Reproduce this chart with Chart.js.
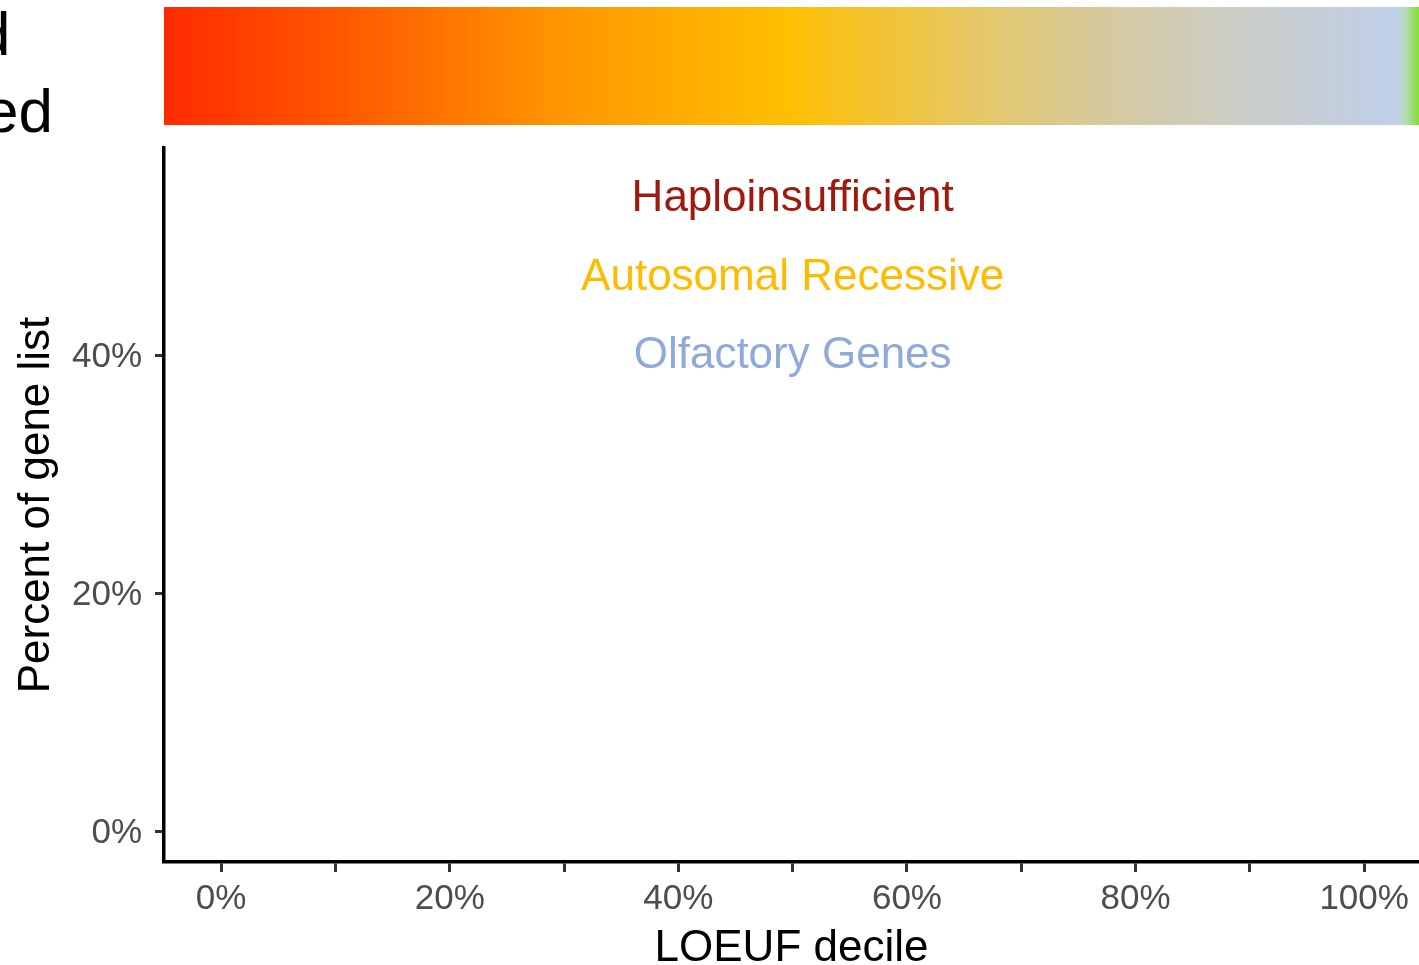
<!DOCTYPE html>
<html>
<head>
<meta charset="utf-8">
<script src="https://cdn.jsdelivr.net/npm/chart.js@4.4.1/dist/chart.umd.min.js"></script>
<style>
  body { margin: 0; background: #fff; }
  canvas { display: block; }
</style>
</head>
<body>
<canvas id="chart" width="1419" height="965"></canvas>
<script>
// Axis ticks (percent)
const xTicks = [0, 10, 20, 30, 40, 50, 60, 70, 80, 90, 100];
const yTicks = [0, 20, 40];

// Gene list labels, placed in data coordinates
const listNames = ['Haploinsufficient', 'Autosomal Recessive', 'Olfactory Genes'];
const listX = [50, 50, 50];
const listY = [53.1, 46.5, 39.9];
const listColors = ['#a0190f', '#ffbb00', '#8ea9dc'];

// LOEUF colour bar stops (x in percent)
const barStops = [-5, 9.5, 29.7, 49.3, 68.2, 76.9, 90, 102.9, 103.6, 104.8];
const barColors = ['#ff2a00', '#ff5500', '#ff9600', '#ffbf00', '#e2c872', '#d6c99b', '#cacdc9', '#c0d0ea', '#b6dab6', '#80e030'];

// Cut-off annotation at top left
const cornerText = ['Ranked', 'Constrained'];

const FONT = "'Liberation Sans', Arial, sans-serif";

const overlay = {
    id: 'overlay',
    afterDraw(chart) {
        const ctx = chart.ctx;
        const x = chart.scales.x;
        const y = chart.scales.y;

        // Colour bar above the panel
        const x0 = x.getPixelForValue(barStops[0]);
        const x1 = x.getPixelForValue(barStops[barStops.length - 1]);
        const grad = ctx.createLinearGradient(x0, 0, x1, 0);
        barStops.forEach((s, i) => {
            grad.addColorStop((s - barStops[0]) / (barStops[barStops.length - 1] - barStops[0]), barColors[i]);
        });
        ctx.save();
        ctx.fillStyle = grad;
        ctx.fillRect(x0, 7, chart.width - x0, 118);

        // Corner text (partly off canvas)
        ctx.fillStyle = '#000';
        ctx.font = '62px ' + FONT;
        ctx.textAlign = 'right';
        ctx.textBaseline = 'alphabetic';
        ctx.fillText(cornerText[0], 10.5, 55);
        ctx.fillText(cornerText[1], 53, 132);

        // Gene list labels
        ctx.font = '44px ' + FONT;
        ctx.textAlign = 'center';
        ctx.textBaseline = 'middle';
        listNames.forEach((name, i) => {
            ctx.fillStyle = listColors[i];
            ctx.fillText(name, x.getPixelForValue(listX[i]), y.getPixelForValue(listY[i]));
        });
        ctx.restore();
    }
};

new Chart(document.getElementById('chart'), {
    type: 'line',
    data: {
        datasets: listNames.map((name, i) => ({
            label: name,
            data: [],
            borderColor: listColors[i],
            pointRadius: 0
        }))
    },
    options: {
        responsive: false,
        animation: false,
        layout: { padding: { top: 148, right: 0, bottom: 0, left: 0 } },
        plugins: {
            legend: { display: false },
            tooltip: { enabled: false }
        },
        scales: {
            x: {
                type: 'linear',
                min: -5,
                max: 104.8,
                afterBuildTicks: (scale) => { scale.ticks = xTicks.map(v => ({ value: v })); },
                afterFit: (scale) => { scale.height = 103; },
                ticks: {
                    autoSkip: false,
                    maxRotation: 0,
                    padding: 6,
                    color: '#4d4d4d',
                    font: { family: FONT, size: 35 },
                    callback: (v) => (v % 20 === 0 ? v + '%' : '')
                },
                grid: {
                    drawOnChartArea: false,
                    tickLength: 10,
                    tickWidth: 3,
                    tickColor: '#333'
                },
                border: { color: '#000', width: 3.5 },
                title: {
                    display: true,
                    text: 'LOEUF decile',
                    color: '#000',
                    font: { family: FONT, size: 44, lineHeight: 1 },
                    padding: { top: 0, bottom: -6 }
                }
            },
            y: {
                type: 'linear',
                min: -2.6,
                max: 57.4,
                afterBuildTicks: (scale) => { scale.ticks = yTicks.map(v => ({ value: v })); },
                afterFit: (scale) => { scale.width = 164; },
                ticks: {
                    padding: 13,
                    labelOffset: 2.5,
                    color: '#4d4d4d',
                    font: { family: FONT, size: 35 },
                    callback: (v) => v + '%'
                },
                grid: {
                    drawOnChartArea: false,
                    tickLength: 9,
                    tickWidth: 3,
                    tickColor: '#333'
                },
                border: { color: '#000', width: 3.5 },
                title: {
                    display: true,
                    text: 'Percent of gene list',
                    color: '#000',
                    font: { family: FONT, size: 44, lineHeight: 1 },
                    padding: { top: 15, bottom: 0 }
                }
            }
        }
    },
    plugins: [overlay]
});
</script>
</body>
</html>
